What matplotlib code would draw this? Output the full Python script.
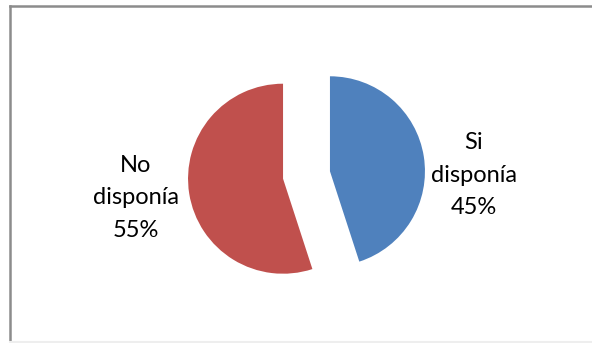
import matplotlib.pyplot as plt
from matplotlib.lines import Line2D

# share of respondents
labels = ["Si\ndisponía", "No\ndisponía"]
values = [45, 55]
colors = ["#4F81BD", "#C0504D"]

W, H = 592, 343
fig = plt.figure(figsize=(W / 100, H / 100), dpi=100)
ax = fig.add_axes([0, 0, 1, 1])
ax.set_xlim(0, W)
ax.set_ylim(0, H)
ax.set_aspect("equal")
ax.axis("off")

# chart frame (left and top edges visible, bottom faint)
fig.add_artist(Line2D([10 / W, 10 / W], [0, 1 - 6 / H], transform=fig.transFigure,
                      color="#8c8c8c", lw=1.8))
fig.add_artist(Line2D([10 / W, 1], [1 - 6 / H, 1 - 6 / H], transform=fig.transFigure,
                      color="#8c8c8c", lw=1.8))
fig.add_artist(Line2D([10 / W, 1], [1.5 / H, 1.5 / H], transform=fig.transFigure,
                      color="#eeeeee", lw=1.5))

# pie in pixel units; explode offset is absolute, so scale it by the radius
radius = 95
wedges, _ = ax.pie(values, colors=colors, startangle=90, counterclock=False,
                   explode=[0.25 * radius, 0.25 * radius], radius=radius,
                   center=(306.5, H - 175), wedgeprops=dict(linewidth=0))
ax.set_xlim(0, W)
ax.set_ylim(0, H)

# data labels
label_pos = [(473.5, H - 175), (135.5, H - 198)]
for (x, y), lab, v in zip(label_pos, labels, values):
    ax.text(x, y, f"{lab}\n{v}%", ha="center", va="center", fontsize=17,
            family="Lato", linespacing=1.7, color="black")

fig.savefig("out.png", dpi=100)
